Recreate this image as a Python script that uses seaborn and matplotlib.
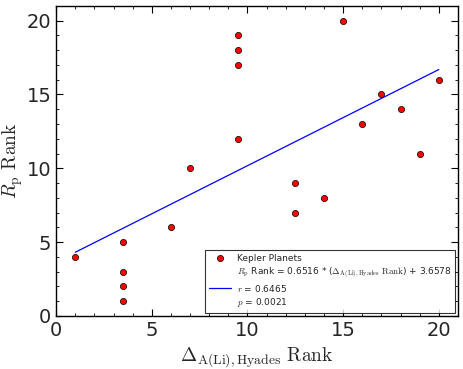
import matplotlib
matplotlib.use("Agg")
import matplotlib.pyplot as plt
import seaborn as sns
import numpy as np
import pandas as pd
from matplotlib.ticker import MultipleLocator

delta_rank = [1, 3.5, 3.5, 3.5, 3.5, 6, 7, 9.5, 9.5, 9.5, 9.5, 12.5, 12.5, 14, 15, 16, 17, 18, 19, 20]
rp_rank = [4, 5, 3, 2, 1, 6, 10, 19, 18, 17, 12, 9, 7, 8, 20, 13, 15, 14, 11, 16]
slope = 0.6516
intercept = 3.6578
r_val = 0.6465
p_val = 0.0021

sns.set_style("ticks")
plt.rcParams["mathtext.fontset"] = "cm"
plt.rcParams["font.family"] = ["DejaVu Sans"]

df = pd.DataFrame({"x": delta_rank, "y": rp_rank})
xfit = np.array([min(delta_rank), max(delta_rank)])
fit = pd.DataFrame({"x": xfit, "y": slope * xfit + intercept})

fig = plt.figure(figsize=(4.64, 3.69), dpi=100)
ax = fig.add_axes([0.121, 0.144, 0.866, 0.84])

sns.scatterplot(data=df, x="x", y="y", ax=ax, color="red", edgecolor="black",
                linewidth=0.5, s=20, label="Kepler Planets", zorder=3)
fit_label = (r"$R_{\rm p}$ Rank = %.4f * ($\Delta_{\rm A(Li), Hyades}$ $\rm Rank$) + %.4f"
             "\n" r"$r$ = %.4f" "\n" r"$p$ = %.4f") % (slope, intercept, r_val, p_val)
sns.lineplot(data=fit, x="x", y="y", ax=ax, color="blue", linewidth=0.9, label=fit_label, zorder=2)

ax.set_xlim(0, 21)
ax.set_ylim(0, 21)
ax.xaxis.set_major_locator(MultipleLocator(5))
ax.yaxis.set_major_locator(MultipleLocator(5))
ax.xaxis.set_minor_locator(MultipleLocator(1))
ax.yaxis.set_minor_locator(MultipleLocator(1))
ax.tick_params(which="both", direction="in", top=True, right=True, labelsize=14, color="black")
ax.tick_params(which="major", length=5, width=0.8)
ax.tick_params(which="minor", length=2.5, width=0.6)
for sp in ax.spines.values():
    sp.set_color("black")
    sp.set_linewidth(1.0)

ax.set_xlabel(r"$\Delta_{\rm A(Li), Hyades}$ $\rm Rank$", fontsize=14)
ax.set_ylabel(r"$R_{\rm p}$ $\rm Rank$", fontsize=14, labelpad=1)

leg = ax.legend(loc="lower right", fontsize=6.5, frameon=True, fancybox=False,
                borderaxespad=0.35, handlelength=2.5, labelspacing=0.4,
                borderpad=0.4, handletextpad=0.6)
leg.get_frame().set_edgecolor("black")
leg.get_frame().set_linewidth(0.8)

fig.savefig("out.png", dpi=100)
